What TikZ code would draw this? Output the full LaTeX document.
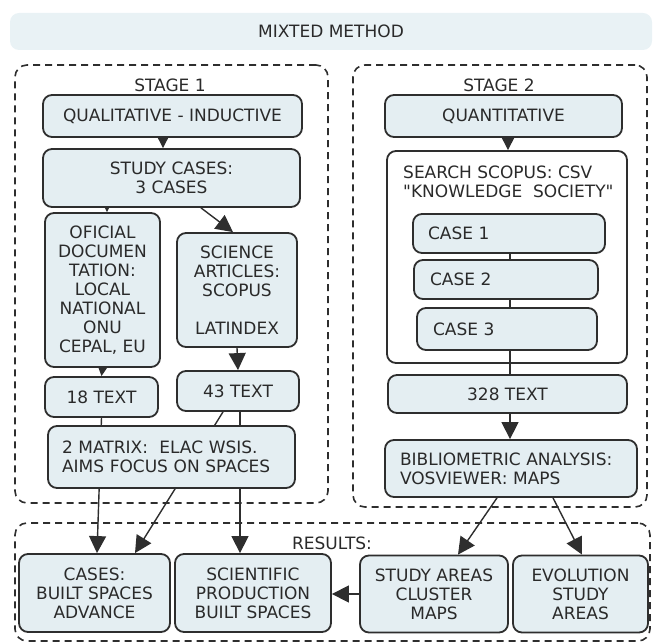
\documentclass[tikz,border=0pt]{standalone}
\usepackage{fontspec}
\setmainfont{DejaVu Sans}
\usetikzlibrary{arrows.meta,positioning,calc}

\definecolor{boxfill}{HTML}{E4EEF2}
\definecolor{bannerfill}{HTML}{E9F2F5}
\definecolor{edge}{HTML}{2E2E2E}
\definecolor{ink}{HTML}{2A2A2A}

\pgfdeclarelayer{background}
\pgfsetlayers{background,main}

\tikzset{
  box/.style={draw=edge, fill=boxfill, line width=1.8pt, rounded corners=9pt,
    inner sep=0pt, align=center, text=ink},
  leftbox/.style={box, align=left},
  stagebox/.style={draw=edge, dash pattern=on 7pt off 5pt, line width=1.6pt,
    rounded corners=12pt, inner sep=0pt},
  flow/.style={draw=edge, line width=1.4pt, -{Triangle[length=17pt,width=17pt]}},
  link/.style={draw=edge, line width=1.4pt},
  txt/.style={text=ink, inner sep=0pt},
}

\begin{document}
\begin{tikzpicture}[x=1pt, y=-1pt, every node/.style={font=\fontsize{17}{19}\selectfont}]
    \useasboundingbox (0,0) rectangle (655,644);

    % Banner
    \node[fill=bannerfill, rounded corners=9pt, text=ink, minimum width=642, minimum height=37] (method) at (331,31.5) {MIXTED METHOD};

    % Stage frames
    \node[stagebox, minimum width=313, minimum height=438] (stage1) at (171.5,284) {};
    \node[stagebox, minimum width=294, minimum height=442] (stage2) at (500,286) {};
    \node[stagebox, minimum width=635, minimum height=118] (results) at (332.5,582) {};
    \node[txt] (stage1lbl) at (170,85) {STAGE 1};
    \node[txt] (stage2lbl) at (499,85) {STAGE 2};
    \node[txt] (resultslbl) at (332,543) {RESULTS:};

    % Stage 1
    \node[box, minimum width=259, minimum height=42] (qual) at (172.5,116) {QUALITATIVE - INDUCTIVE};
    \node[box, minimum width=257, minimum height=58] (study) at (171.5,178) {STUDY CASES:\\3 CASES};
    \node[box, minimum width=115, minimum height=154] (oficial) at (102.5,290) {OFICIAL\\DOCUMEN\\TATION:\\LOCAL\\NATIONAL\\ONU\\CEPAL, EU};
    \node[box, minimum width=120, minimum height=114] (science) at (237,290) {SCIENCE\\ARTICLES:\\SCOPUS\\[19pt]LATINDEX};
    \node[box, minimum width=113, minimum height=40] (t18) at (101.5,397) {18 TEXT};
    \node[box, minimum width=122, minimum height=40] (t43) at (238,391) {43 TEXT};
    \node[leftbox, minimum width=247, minimum height=62, text width=219pt] (matrix) at (171.5,457) {2 MATRIX:\ \ ELAC WSIS.\\AIMS FOCUS ON SPACES};

    % Stage 2
    \node[box, minimum width=237, minimum height=42] (quant) at (503.5,116) {QUANTITATIVE};
    \node[draw=edge, line width=1.8pt, rounded corners=9pt, minimum width=240, minimum height=212] (search) at (507,257) {};
    \node[txt, anchor=west, align=left] (searchlbl) at (403,182) {SEARCH SCOPUS: CSV\\\textquotedbl KNOWLEDGE\ \ SOCIETY\textquotedbl};
    \node[leftbox, minimum width=192, minimum height=39, text width=162pt] (case1) at (509,233.5) {CASE 1};
    \node[leftbox, minimum width=184, minimum height=39, text width=152pt] (case2) at (506,279.5) {CASE 2};
    \node[leftbox, minimum width=180, minimum height=42, text width=148pt] (case3) at (507,329) {CASE 3};
    \node[box, minimum width=239, minimum height=38] (t328) at (507.5,394) {328 TEXT};
    \node[leftbox, minimum width=252, minimum height=57, text width=222pt] (biblio) at (511,468.5) {BIBLIOMETRIC ANALYSIS:\\VOSVIEWER: MAPS};

    % Results
    \node[box, minimum width=151, minimum height=78] (cases) at (94.5,593) {CASES:\\BUILT SPACES\\ADVANCE};
    \node[box, minimum width=156, minimum height=78] (sci) at (253,593) {SCIENTIFIC\\PRODUCTION\\BUILT SPACES};
    \node[box, minimum width=148, minimum height=77] (areas) at (434,594) {STUDY AREAS\\CLUSTER\\MAPS};
    \node[box, minimum width=135, minimum height=77] (evol) at (580.5,594) {EVOLUTION\\STUDY\\AREAS};

    % Connectors, behind the boxes
    \begin{pgfonlayer}{background}
    \draw[flow] ([xshift=-9.5pt]qual.south) -- ([xshift=-8.5pt]study.north);
    \draw[flow] ([xshift=-64.5pt]study.south) -- ([xshift=4.5pt]oficial.north);
    \draw[flow] ([xshift=29.5pt]study.south) -- ([xshift=-4pt]science.north);
    \draw[flow] (science.south) -- (t43.north);
    \draw[flow] (oficial.south) -- (t18.north);
    \draw[flow] (t18.south) -- ([xshift=2.5pt]cases.north);
    \draw[flow] ([xshift=-15pt]t43.south) -- ([xshift=40.5pt]cases.north);
    \draw[flow] ([xshift=2pt]t43.south) -- ([xshift=-13pt]sci.north);
    \draw[flow] ([xshift=4.5pt]quant.south) -- ([xshift=1pt]search.north);
    \draw[link] ([xshift=1pt]case1.south) -- ([xshift=2.5pt]t328.north);
    \draw[flow] ([xshift=2.5pt]t328.south) -- ([xshift=-1pt]biblio.north);
    \draw[flow] ([xshift=-14pt]biblio.south) -- ([xshift=24pt]areas.north);
    \draw[flow] ([xshift=42pt]biblio.south) -- ([xshift=1.5pt]evol.north);
    \draw[flow] (areas.west) -- (areas.west -| sci.east);
    \end{pgfonlayer}
\end{tikzpicture}
\end{document}
